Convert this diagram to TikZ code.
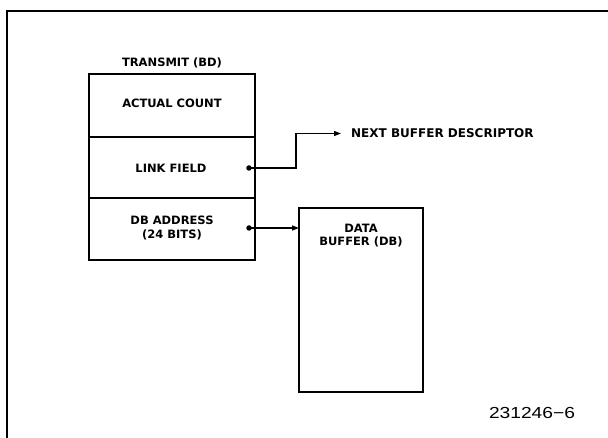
\documentclass[tikz,border=0pt]{standalone}
\usepackage{fontspec}
\setmainfont{DejaVu Sans}
\newfontfamily\numfont{Liberation Sans}
\usetikzlibrary{arrows.meta}
\begin{document}
\begin{tikzpicture}[x=1pt,y=-1pt,
  boxline/.style={line width=1.8pt},
  lbl/.style={font=\bfseries\fontsize{11.5}{12}\selectfont, inner sep=0pt},
  conn/.style={line width=1.3pt},
  arr/.style={conn,-{Triangle[length=7pt,width=5pt]}},
  dotc/.style={circle,fill=black,inner sep=0pt,minimum size=5.5pt}]
\useasboundingbox (0,0) rectangle (608,438);
% frame
\draw[line width=1.4pt] (7,438) -- (7,11) -- (608,11);
% BD box
\node[lbl] (title) at (172,63) {TRANSMIT (BD)};
\draw[boxline] (89,74) rectangle (255,260);
\draw[boxline] (89,137) -- (255,137);
\draw[boxline] (89,198) -- (255,198);
\node[lbl] (ac) at (172,103) {ACTUAL COUNT};
\node[lbl] (lf) at (171,168) {LINK FIELD};
\node[lbl, align=center] (dba) at (172,228) {DB ADDRESS\\[2pt](24 BITS)};
% dots
\node[dotc] (d1) at (249,168) {};
\node[dotc] (d2) at (249,228) {};
% next buffer descriptor
\node[lbl, anchor=west, font=\bfseries\fontsize{12}{12}\selectfont] (nbd) at (351,133.5) {NEXT BUFFER DESCRIPTOR};
\coordinate (nbdtip) at (341,133.5);
\draw[arr] (d1.center) -- (296,168) -- (296,133.5) -- (nbdtip);
% data buffer
\draw[boxline] (299,208) rectangle (423,392);
\coordinate (dbleft) at (299,228);
\node[lbl, align=center] (db) at (361,236) {DATA\\[1pt]BUFFER (DB)};
\draw[arr] (d2.center) -- (dbleft);
% figure number
\node[font=\numfont\fontsize{16}{16}\selectfont, inner sep=0pt, xscale=1.2] (fig) at (532,413) {231246−6};
\end{tikzpicture}
\end{document}
